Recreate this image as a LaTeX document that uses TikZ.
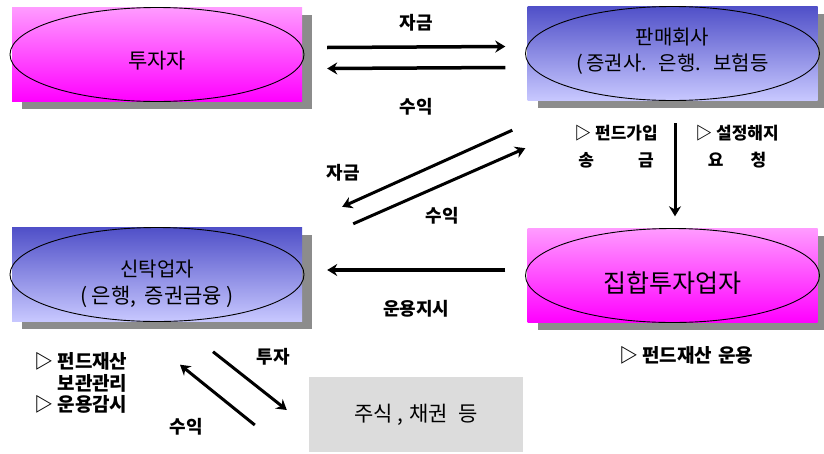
\documentclass[tikz,border=0pt]{standalone}
\usepackage{fontspec}
\setmainfont{Noto Sans CJK KR}
\usetikzlibrary{
  arrows.meta,
  positioning,
  shapes.geometric,
  shadows,
}
\tikzset{
  >={Stealth[width=12pt,length=10pt]},
}
\definecolor{fd_pinktop}{RGB}{255,155,255}
\definecolor{fd_pinkbot}{RGB}{255,0,255}
\definecolor{fd_bluetop}{RGB}{80,80,200}
\definecolor{fd_bluebot}{RGB}{200,200,255}
\definecolor{fd_shadow}{RGB}{140,140,140}
\definecolor{fd_gray}{RGB}{220,220,220}

\begin{document}
\begin{tikzpicture}[x=1pt, y=-1pt,
    box/.style={rectangle, minimum width=290pt, minimum height=94pt, inner sep=0pt,
      drop shadow={shadow xshift=10pt, shadow yshift=-7pt, fill=fd_shadow, opacity=1}},
    pinkbox/.style={box, top color=fd_pinktop, bottom color=fd_pinkbot},
    bluebox/.style={box, top color=fd_bluetop, bottom color=fd_bluebot},
    oval/.style={ellipse, draw=black, line width=0.9pt, minimum width=294pt,
      minimum height=94pt, inner sep=0pt},
    ctext/.style={align=center, inner sep=0pt},
    lbl/.style={font=\fontsize{18}{20}\selectfont\bfseries, inner sep=2pt},
    note/.style={align=center, font=\fontsize{17}{27}\selectfont\bfseries, inner sep=0pt},
    flow/.style={->, line width=3.5pt},
    slant/.style={->, line width=3pt},
  ]
    \useasboundingbox (0,0) rectangle (824,453);

    % the four parties
    \node[pinkbox] (investorbox) at (157,54.5) {};
    \node[bluebox] (sellerbox) at (672.5,53.5) {};
    \node[bluebox] (trusteebox) at (157,274.5) {};
    \node[pinkbox] (managerbox) at (672.5,275.5) {};
    \foreach \b in {investorbox, sellerbox, trusteebox, managerbox} {
      \node[oval] at (\b) {};
    }
    \node[ctext, font=\fontsize{21}{25}\selectfont] (investor) at ([yshift=-6pt]investorbox.center) {투자자};
    \node[ctext, font=\fontsize{20}{26}\selectfont] (seller) at ([yshift=2pt]sellerbox.center)
      {판매회사\\(\hspace{0.15em}증권사.\hspace{0.6em}은행.\hspace{0.6em}보험등};
    \node[ctext, font=\fontsize{20}{27}\selectfont] (trustee) at ([yshift=-9pt]trusteebox.center)
      {신탁업자\\{\fontsize{21}{27}\selectfont(\hspace{0.2em}은행,\hspace{0.4em}증권금융\hspace{0.2em})}};
    \node[ctext, font=\fontsize{25}{27}\selectfont] (manager) at ([yshift=-8pt]managerbox.center) {집합투자업자};

    % assets
    \node[rectangle, fill=fd_gray, minimum width=214pt, minimum height=75pt, inner sep=0pt,
      font=\fontsize{21}{24}\selectfont] (stockbox) at (416,414.5) {\raisebox{-7pt}{주식\hspace{0.2em},\hspace{0.3em}채권\hspace{0.5em}등}};

    % investor <-> seller
    \draw[flow] ([xshift=25pt,yshift=7pt]investorbox.east) -- node[lbl, above=12pt] {자금}
      ([xshift=-22pt,yshift=7pt]sellerbox.west);
    \draw[flow] ([xshift=-22pt,yshift=-14pt]sellerbox.west) -- node[lbl, below=27pt] {수익}
      ([xshift=25pt,yshift=-14pt]investorbox.east);

    % seller <-> trustee
    \draw[slant] ([xshift=-15pt,yshift=-29.5pt]sellerbox.south west) -- ([xshift=40pt,yshift=20.5pt]trusteebox.north east);
    \draw[slant] ([xshift=51pt,yshift=3.5pt]trusteebox.north east) -- ([xshift=-2pt,yshift=-47.5pt]sellerbox.south west);
    \node[lbl] (fundlbl) at (343,173) {자금};
    \node[lbl] (retlbl) at (442,216) {수익};

    % seller -> manager
    \draw[slant] ([xshift=2.5pt,yshift=-22.5pt]sellerbox.south) -- ([xshift=2.5pt,yshift=12pt]managerbox.north);
    \node[note] (joinnote) at (616,146.5) {▷ 펀드가입\\송\hspace{2.6em}금};
    \node[note] (cancelnote) at (737,146.5) {▷ 설정해지\\요\hspace{1.6em}청};

    % manager -> trustee
    \draw[flow] ([xshift=-22pt,yshift=5.5pt]managerbox.west) -- node[lbl, below=27pt] {운용지시}
      ([xshift=25pt,yshift=4.5pt]trusteebox.east);
    \node[note, font=\fontsize{19}{27}\selectfont\bfseries] (runnote) at (686,355) {▷ 펀드재산\hspace{0.3em}운용};

    % trustee <-> assets
    \node[note, align=left, anchor=west, font=\fontsize{19}{21.5}\selectfont\bfseries] (custodynote) at (34,383)
      {▷ 펀드재산\\\phantom{▷ }보관관리\\▷ 운용감시};
    \draw[slant] ([xshift=56pt,yshift=-30pt]trusteebox.south) -- ([xshift=-22pt,yshift=4.5pt]stockbox.west);
    \draw[slant] ([xshift=-54pt,yshift=-10.5pt]stockbox.west) -- ([xshift=23pt,yshift=-43pt]trusteebox.south);
    \node[lbl] (investlbl) at (273,357) {투자};
    \node[lbl] (backlbl) at (186,427) {수익};
  \end{tikzpicture}
\end{document}
